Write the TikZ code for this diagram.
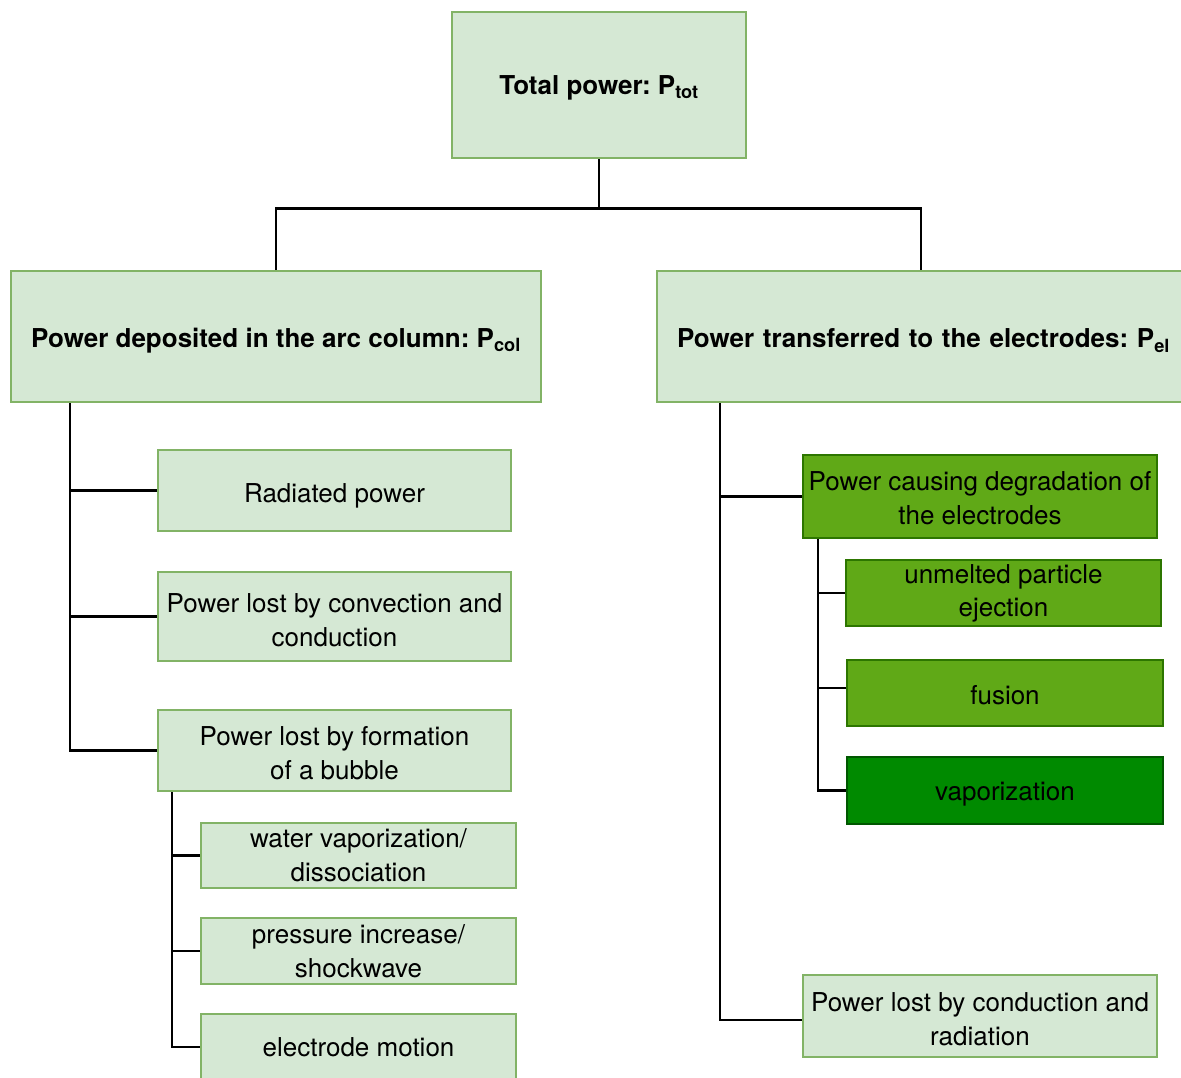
\documentclass[tikz,border=0pt]{standalone}
\usepackage{fontspec}
\setmainfont{TeX Gyre Heros}
\frenchspacing
\definecolor{lfill}{HTML}{D5E8D4}
\definecolor{ldraw}{HTML}{82B366}
\definecolor{gfill}{HTML}{60A917}
\definecolor{gdraw}{HTML}{2D7600}
\definecolor{dfill}{HTML}{008A00}
\definecolor{ddraw}{HTML}{005700}
\newcommand{\upr}[1]{\rule{0pt}{#1}}
\begin{document}
\begin{tikzpicture}[x=1pt,y=-1pt,
  base/.style={rectangle, line width=2.2pt, inner sep=2pt, align=center,
    font=\fontsize{26}{34}\selectfont},
  lbox/.style={base, fill=lfill, draw=ldraw},
  gbox/.style={base, fill=gfill, draw=gdraw},
  dbox/.style={base, fill=dfill, draw=ddraw},
  hdr/.style={font=\fontsize{26}{34}\selectfont\bfseries},
  dn/.style={execute at begin node={\rule{0pt}{#1}}},
  conn/.style={line width=2.8pt, black}]
\useasboundingbox (0,0) rectangle (1181,1077);
\fill[white] (0,0) rectangle (1181,1077);
% top
\node[lbox, hdr, dn=25pt, minimum width=294pt, minimum height=146pt] (top) at (599,85) {Total power: P\textsubscript{tot}};
\node[lbox, hdr, dn=27pt, minimum width=530pt, minimum height=131pt] (col) at (276,336.5) {Power deposited in the arc column: P\textsubscript{col}};
\node[lbox, hdr, dn=27pt, minimum width=528pt, minimum height=131pt, text width=520pt, align=left] (el) at (921,336.5) {\hspace*{16pt}Power transferred to the electrodes: P\textsubscript{el}};
% left branch
\node[lbox, dn=30pt, minimum width=353pt, minimum height=81pt] (rad) at (334.5,490.5) {Radiated power};
\node[lbox, minimum width=353pt, minimum height=89pt] (conv) at (334.5,616.5) {\upr{27pt}Power lost by convection and\\conduction};
\node[lbox, minimum width=353pt, minimum height=81pt] (bub) at (334.5,750.5) {\upr{25pt}Power lost by formation\\of a bubble};
\node[lbox, minimum width=315pt, minimum height=65pt] (water) at (358.5,855.5) {water vaporization/\\dissociation};
\node[lbox, minimum width=315pt, minimum height=66pt] (press) at (358.5,951) {pressure increase/\\shockwave};
\node[lbox, minimum width=315pt, minimum height=66pt] (motion) at (358.5,1047) {electrode motion};
% right branch
\node[gbox, minimum width=354pt, minimum height=83pt] (deg) at (980,496.5) {\upr{23pt}Power causing degradation of\\the electrodes};
\node[gbox, minimum width=315pt, minimum height=66pt] (unm) at (1003.5,593) {unmelted particle\\[-1pt]ejection};
\node[gbox, dn=23pt, minimum width=316pt, minimum height=66pt] (fus) at (1005,693) {fusion};
\node[dbox, dn=25pt, minimum width=316pt, minimum height=67pt] (vap) at (1005,790.5) {vaporization};
\node[lbox, minimum width=354pt, minimum height=82pt] (cond) at (980,1016) {\upr{25pt}Power lost by conduction and\\radiation};
% connectors
\draw[conn] (top.south) -- ++(0,49) coordinate (j);
\draw[conn] (col.north) |- (j) -| (el.north);
\draw[conn] ([xshift=60pt]col.south west) |- (rad.west);
\draw[conn] ([xshift=60pt]col.south west) |- (conv.west);
\draw[conn] ([xshift=60pt]col.south west) |- (bub.west);
\draw[conn] ([xshift=15pt]bub.south west) |- (water.west);
\draw[conn] ([xshift=15pt]bub.south west) |- (press.west);
\draw[conn] ([xshift=15pt]bub.south west) |- (motion.west);
\draw[conn] ([xshift=64pt]el.south west) |- (deg.west);
\draw[conn] ([xshift=64pt]el.south west) |- ([yshift=-4pt]cond.west);
\draw[conn] ([xshift=16pt]deg.south west) |- (unm.west);
\draw[conn] ([xshift=16pt]deg.south west) |- ([yshift=5pt]fus.west);
\draw[conn] ([xshift=16pt]deg.south west) |- (vap.west);
\end{tikzpicture}
\end{document}
